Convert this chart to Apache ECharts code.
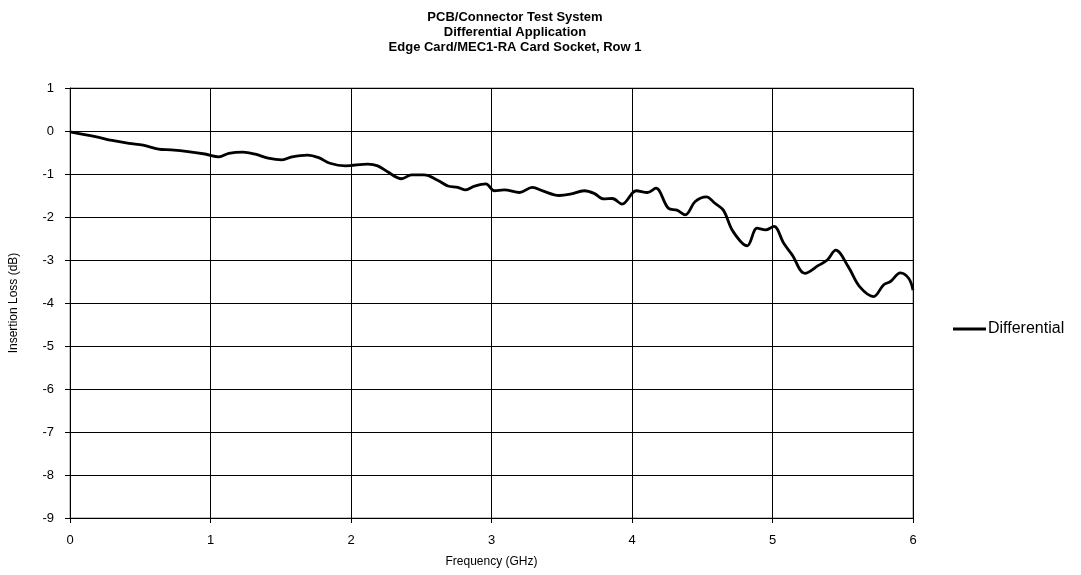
<!DOCTYPE html>
<html>
<head>
<meta charset="utf-8">
<script src="https://cdn.jsdelivr.net/npm/echarts@6/dist/echarts.min.js"></script>
<style>
  html, body { margin: 0; padding: 0; background: #fff; }
  #chart { width: 1081px; height: 575px; }
</style>
</head>
<body>
<div id="chart"></div>
<script>
// Insertion loss of the differential pair, frequency in GHz, loss in dB
const freqGHz = [0, 0.18, 0.30, 0.42, 0.52, 0.63, 0.72, 0.84, 0.96, 1.06, 1.13, 1.23, 1.32, 1.41, 1.51, 1.58, 1.69, 1.77, 1.85, 1.96,
  2.12, 2.19, 2.26, 2.36, 2.43, 2.52, 2.62, 2.69, 2.76, 2.81, 2.88, 2.96, 3.02, 3.09, 3.20, 3.29, 3.37, 3.48, 3.56,
  3.66, 3.73, 3.80, 3.86, 3.93, 4.03, 4.11, 4.17, 4.26, 4.32, 4.38, 4.45, 4.53, 4.59, 4.65, 4.72, 4.82, 4.89, 4.95,
  5.01, 5.08, 5.14, 5.23, 5.33, 5.39, 5.45, 5.54, 5.62, 5.72, 5.79, 5.84, 5.91, 5.97, 6.00];
const lossDb = [-0.02, -0.13, -0.22, -0.29, -0.33, -0.42, -0.44, -0.48, -0.535, -0.60, -0.52, -0.49, -0.54, -0.63, -0.67, -0.60, -0.56, -0.62, -0.75, -0.81,
  -0.77, -0.81, -0.95, -1.11, -1.02, -1.02, -1.15, -1.28, -1.31, -1.37, -1.28, -1.23, -1.39, -1.37, -1.43, -1.31, -1.40, -1.50, -1.47,
  -1.39, -1.45, -1.58, -1.57, -1.70, -1.39, -1.43, -1.33, -1.80, -1.84, -1.95, -1.64, -1.53, -1.68, -1.84, -2.34, -2.67, -2.26, -2.30,
  -2.22, -2.61, -2.88, -3.31, -3.12, -3.00, -2.77, -3.16, -3.62, -3.85, -3.58, -3.50, -3.30, -3.43, -3.70];

const titleLines = ['PCB/Connector Test System', 'Differential Application', 'Edge Card/MEC1-RA Card Socket, Row 1'];
const seriesName = 'Differential';

const points = freqGHz.map((f, i) => [f, lossDb[i]]);
const FONT = '"Liberation Sans", Arial, sans-serif';

const chart = echarts.init(document.getElementById('chart'), null, { renderer: 'canvas' });
chart.setOption({
  animation: false,
  backgroundColor: '#ffffff',
  title: {
    text: titleLines.join('\n'),
    left: 510,
    top: 5,
    textAlign: 'center',
    textStyle: { fontFamily: FONT, fontSize: 13, fontWeight: 'bold', color: '#000', lineHeight: 15 }
  },
  legend: {
    data: [seriesName],
    left: 948,
    top: 316,
    icon: 'rect',
    itemWidth: 33,
    itemHeight: 3,
    itemGap: 4,
    textStyle: { fontFamily: FONT, fontSize: 16, color: '#000', padding: [0, 0, 0, -3] }
  },
  grid: {
    left: 68, right: 168, top: 88, bottom: 57,
    show: true, borderColor: '#808080', borderWidth: 1
  },
  xAxis: {
    type: 'value',
    min: 0, max: 6, interval: 1,
    name: 'Frequency (GHz)',
    nameLocation: 'middle',
    nameGap: 38,
    nameTextStyle: { fontFamily: FONT, fontSize: 12, color: '#000' },
    axisLine: { show: true, onZero: false, lineStyle: { color: '#000', width: 1 } },
    axisTick: { show: true, length: 5, lineStyle: { color: '#000' } },
    axisLabel: { fontFamily: FONT, fontSize: 13, color: '#000', margin: 16 },
    splitLine: { show: true, lineStyle: { color: '#000', width: 1 } }
  },
  yAxis: {
    type: 'value',
    min: -9, max: 1, interval: 1,
    name: 'Insertion Loss (dB)',
    nameLocation: 'middle',
    nameGap: 50,
    nameTextStyle: { fontFamily: FONT, fontSize: 12, color: '#000' },
    axisLine: { show: true, lineStyle: { color: '#000', width: 1 } },
    axisTick: { show: true, length: 5, lineStyle: { color: '#000' } },
    axisLabel: { fontFamily: FONT, fontSize: 13, color: '#000', margin: 16 },
    splitLine: { show: true, lineStyle: { color: '#000', width: 1 } }
  },
  series: [{
    name: seriesName,
    type: 'line',
    data: points,
    smooth: 0.35,
    symbol: 'none',
    lineStyle: { color: '#000', width: 2.8 },
    itemStyle: { color: '#000' }
  }]
});
</script>
</body>
</html>
